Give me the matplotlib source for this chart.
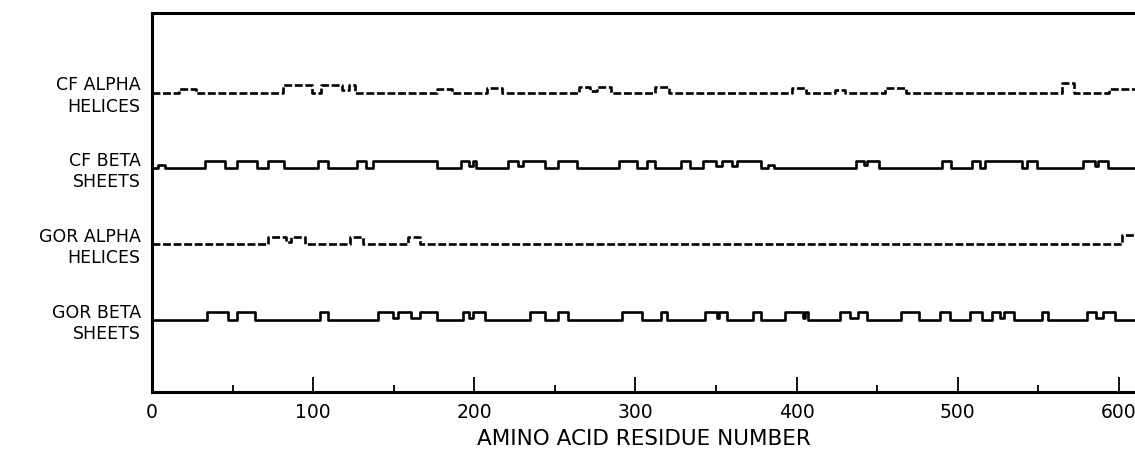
"""Secondary structure prediction tracks along the residue axis."""

import matplotlib

matplotlib.use("Agg")
import matplotlib.pyplot as plt
from matplotlib.ticker import MultipleLocator

# step breakpoints (residue) and bump heights for each prediction track
cf_alpha_x = [0, 17, 27, 81, 99, 105, 118, 122, 126, 177, 186, 208, 217, 265, 272,
              276, 285, 312, 321, 397, 406, 424, 430, 455, 468, 565, 572, 594, 610]
cf_alpha_y = [0, 0.05, 0, 0.1, 0, 0.1, 0.03, 0.1, 0, 0.05, 0, 0.06, 0, 0.07, 0.02,
              0.07, 0, 0.07, 0, 0.06, 0, 0.04, 0, 0.06, 0, 0.12, 0, 0.05, 0.05]

cf_beta_x = [0, 4, 8, 33, 45, 53, 65, 72, 82, 103, 109, 127, 133, 137, 177, 192,
             197, 199, 201, 221, 227, 230, 244, 252, 264, 290, 301, 307, 312, 328,
             334, 342, 350, 354, 360, 363, 378, 382, 386, 437, 442, 444, 451, 490,
             496, 509, 514, 517, 540, 543, 549, 578, 585, 587, 593, 610]
cf_beta_y = [0, 0.04, 0, 0.1, 0, 0.1, 0, 0.1, 0, 0.1, 0, 0.1, 0, 0.1, 0, 0.1,
             0.03, 0.1, 0, 0.1, 0.03, 0.1, 0, 0.1, 0, 0.1, 0, 0.1, 0, 0.1,
             0, 0.1, 0.03, 0.1, 0.03, 0.1, 0, 0.05, 0, 0.1, 0.04, 0.1, 0, 0.1,
             0, 0.1, 0, 0.1, 0, 0.1, 0, 0.1, 0.03, 0.1, 0, 0]

gor_alpha_x = [0, 72, 83, 86, 95, 123, 131, 159, 166, 602, 610]
gor_alpha_y = [0, 0.1, 0.03, 0.1, 0, 0.1, 0, 0.1, 0, 0.12, 0.12]

gor_beta_x = [0, 34, 47, 53, 64, 104, 109, 140, 149.5, 152.5, 161, 166, 177, 193,
              197, 199, 206.5, 234.5, 244, 252, 258, 291.5, 304, 316, 319.5, 343,
              350.5, 352, 357, 373, 378, 392.5, 404, 405, 407, 427, 433, 438, 443.5,
              465, 476, 489, 495, 507.5, 515, 521, 526, 529, 535, 552, 556, 580,
              586, 590, 597.5, 610]
gor_beta_y = [0, 0.1, 0, 0.1, 0, 0.1, 0, 0.1, 0.02, 0.1, 0.02, 0.1, 0, 0.1,
              0.03, 0.1, 0, 0.1, 0, 0.1, 0, 0.1, 0, 0.1, 0, 0.1,
              0.03, 0.1, 0, 0.1, 0, 0.1, 0.03, 0.1, 0, 0.1, 0.03, 0.1, 0,
              0.1, 0, 0.1, 0, 0.1, 0, 0.1, 0.03, 0.1, 0, 0.1, 0, 0.1,
              0.03, 0.1, 0, 0]

track_labels = ["CF ALPHA\nHELICES", "CF BETA\nSHEETS", "GOR ALPHA\nHELICES", "GOR BETA\nSHEETS"]
tick_values = [0, 100, 200, 300, 400, 500, 600]

plt.rcParams["font.family"] = ["DejaVu Sans"]

fig = plt.figure(figsize=(11.35, 4.77), dpi=100)
ax = fig.add_axes([152 / 1135, 84 / 477, 983 / 1135, 379 / 477])

tracks = [
    (cf_alpha_x, cf_alpha_y, (0, (3, 1))),
    (cf_beta_x, cf_beta_y, "-"),
    (gor_alpha_x, gor_alpha_y, (0, (3, 1))),
    (gor_beta_x, gor_beta_y, "-"),
]
offsets = [4, 3, 2, 1]

for (xs, ys, style), base, label in zip(tracks, offsets, track_labels):
    ax.plot(xs, [base + v for v in ys], drawstyle="steps-post", color="black",
            lw=1.9, linestyle=style, solid_joinstyle="round")
    ax.text(-7, base - 0.03, label, ha="right", va="center", multialignment="right",
            fontsize=12.5, linespacing=1.25, clip_on=False)

ax.set_xlim(0, 610)
ax.set_ylim(0.05, 5.05)
ax.set_yticks([])
ax.set_xticks(tick_values)
ax.xaxis.set_minor_locator(MultipleLocator(50))
ax.tick_params(axis="x", which="major", direction="in", length=11, width=1.3,
               labelsize=13.5, pad=7)
ax.tick_params(axis="x", which="minor", direction="in", length=5, width=1.3)
ax.spines["right"].set_visible(False)
for side in ["left", "top", "bottom"]:
    ax.spines[side].set_linewidth(2.2)

ax.set_xlabel("AMINO ACID RESIDUE NUMBER", fontsize=15.5, labelpad=5)

fig.savefig("out.png", dpi=100)
